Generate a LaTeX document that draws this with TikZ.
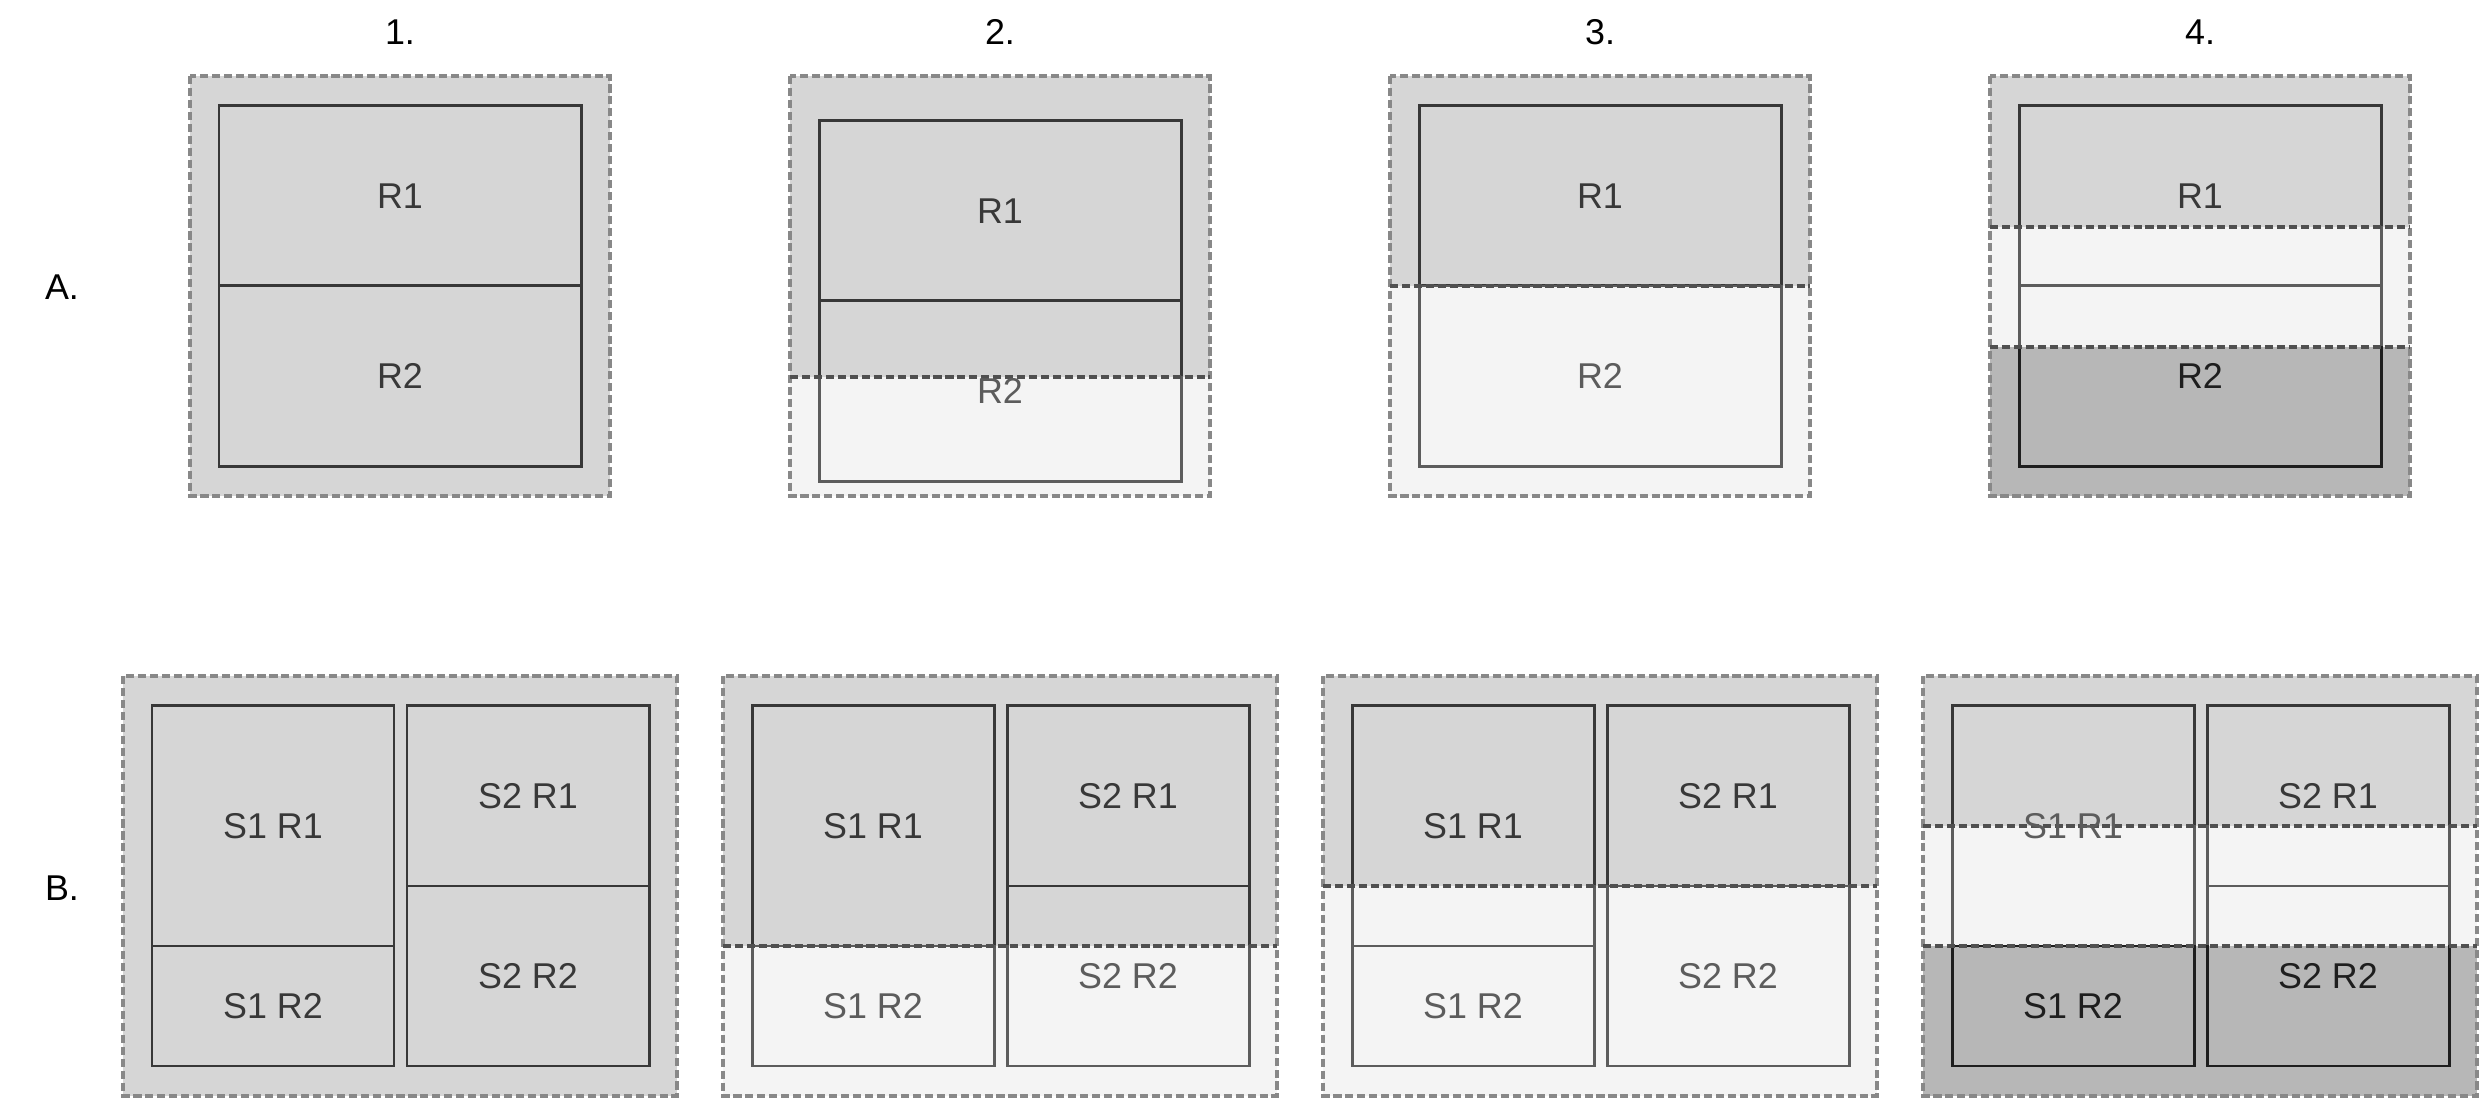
\documentclass[tikz,border=0pt]{standalone}
\usepackage{fontspec}
\setmainfont{Liberation Sans}
\usepackage{tikz}
\usetikzlibrary{positioning}

\definecolor{darkbg}{HTML}{D6D6D6}
\definecolor{darkfg}{HTML}{383838}
\definecolor{lightbg}{HTML}{F4F4F4}
\definecolor{lightfg}{HTML}{5C5C5C}
\definecolor{deepbg}{HTML}{B7B7B7}
\definecolor{deepfg}{HTML}{1E1E1E}
\definecolor{framegray}{HTML}{888888}
\definecolor{cutgray}{HTML}{505050}

\tikzset{
  frame/.style={draw=framegray, line width=0.9pt, dash pattern=on 2.3pt off 1.1pt},
  cut/.style={draw=cutgray, line width=0.9pt, dash pattern=on 2.3pt off 1.1pt},
  box/.style={line width=0.85pt},
  lbl/.style={font=\fontsize{10.2}{12}\selectfont, inner sep=0pt},
}

\begin{document}
\begin{tikzpicture}[x=0.01cm, y=-0.01cm]
\useasboundingbox (0,0) rectangle (2481,1098);

\node[lbl] (h1) at (400,32) {1.};
\node[lbl] (h2) at (1000,32) {2.};
\node[lbl] (h3) at (1600,32) {3.};
\node[lbl] (h4) at (2200,32) {4.};
\node[lbl] (rowA) at (62,287) {A.};
\node[lbl] (rowB) at (62,888) {B.};

% A.1
\foreach \ya/\yb/\z in {76/496/dark}{
\begin{scope}
\clip (190,\ya) rectangle (610,\yb);
\fill[fill=\z bg] (190,\ya) rectangle (610,\yb);
\draw[box, draw=\z fg] (219,106) rectangle (581,467);
\draw[box, draw=\z fg] (219,286) -- (581,286);
\end{scope}
}
\draw[frame] (190,76) rectangle (610,496);
\node[lbl, text=darkfg] (a1r1) at (400,196) {R1};
\node[lbl, text=darkfg] (a1r2) at (400,376) {R2};

% A.2
\foreach \ya/\yb/\z in {76/377/dark, 377/496/light}{
\begin{scope}
\clip (790,\ya) rectangle (1210,\yb);
\fill[fill=\z bg] (790,\ya) rectangle (1210,\yb);
\draw[box, draw=\z fg] (819,121) rectangle (1181,482);
\draw[box, draw=\z fg] (819,301) -- (1181,301);
\end{scope}
}
\draw[frame] (790,76) rectangle (1210,496);
\draw[cut] (790,377) -- (1210,377);
\node[lbl, text=darkfg] (a2r1) at (1000,211) {R1};
\node[lbl, text=lightfg] (a2r2) at (1000,391) {R2};

% A.3
\foreach \ya/\yb/\z in {76/286/dark, 286/496/light}{
\begin{scope}
\clip (1390,\ya) rectangle (1810,\yb);
\fill[fill=\z bg] (1390,\ya) rectangle (1810,\yb);
\draw[box, draw=\z fg] (1419,106) rectangle (1781,467);
\draw[box, draw=\z fg] (1419,286) -- (1781,286);
\end{scope}
}
\draw[frame] (1390,76) rectangle (1810,496);
\draw[cut] (1390,286) -- (1810,286);
\node[lbl, text=darkfg] (a3r1) at (1600,196) {R1};
\node[lbl, text=lightfg] (a3r2) at (1600,376) {R2};

% A.4
\foreach \ya/\yb/\z in {76/227/dark, 227/347/light, 347/496/deep}{
\begin{scope}
\clip (1990,\ya) rectangle (2410,\yb);
\fill[fill=\z bg] (1990,\ya) rectangle (2410,\yb);
\draw[box, draw=\z fg] (2019,106) rectangle (2381,467);
\draw[box, draw=\z fg] (2019,286) -- (2381,286);
\end{scope}
}
\draw[frame] (1990,76) rectangle (2410,496);
\draw[cut] (1990,227) -- (2410,227);
\draw[cut] (1990,347) -- (2410,347);
\node[lbl, text=darkfg] (a4r1) at (2200,196) {R1};
\node[lbl, text=deepfg] (a4r2) at (2200,376) {R2};

% B.1
\foreach \ya/\yb/\z in {676/1096/dark}{
\begin{scope}
\clip (123,\ya) rectangle (677,\yb);
\fill[fill=\z bg] (123,\ya) rectangle (677,\yb);
\draw[box, draw=\z fg] (152,706) rectangle (394,1066);
\draw[box, draw=\z fg] (152,946) -- (394,946);
\draw[box, draw=\z fg] (407,706) rectangle (649,1066);
\draw[box, draw=\z fg] (407,886) -- (649,886);
\end{scope}
}
\draw[frame] (123,676) rectangle (677,1096);
\node[lbl, text=darkfg] (b1s1r1) at (273,826) {S1 R1};
\node[lbl, text=darkfg] (b1s1r2) at (273,1006) {S1 R2};
\node[lbl, text=darkfg] (b1s2r1) at (528,796) {S2 R1};
\node[lbl, text=darkfg] (b1s2r2) at (528,976) {S2 R2};

% B.2
\foreach \ya/\yb/\z in {676/946/dark, 946/1096/light}{
\begin{scope}
\clip (723,\ya) rectangle (1277,\yb);
\fill[fill=\z bg] (723,\ya) rectangle (1277,\yb);
\draw[box, draw=\z fg] (752,706) rectangle (994,1066);
\draw[box, draw=\z fg] (752,946) -- (994,946);
\draw[box, draw=\z fg] (1007,706) rectangle (1249,1066);
\draw[box, draw=\z fg] (1007,886) -- (1249,886);
\end{scope}
}
\draw[frame] (723,676) rectangle (1277,1096);
\draw[cut] (723,946) -- (1277,946);
\node[lbl, text=darkfg] (b2s1r1) at (873,826) {S1 R1};
\node[lbl, text=lightfg] (b2s1r2) at (873,1006) {S1 R2};
\node[lbl, text=darkfg] (b2s2r1) at (1128,796) {S2 R1};
\node[lbl, text=lightfg] (b2s2r2) at (1128,976) {S2 R2};

% B.3
\foreach \ya/\yb/\z in {676/886/dark, 886/1096/light}{
\begin{scope}
\clip (1323,\ya) rectangle (1877,\yb);
\fill[fill=\z bg] (1323,\ya) rectangle (1877,\yb);
\draw[box, draw=\z fg] (1352,706) rectangle (1594,1066);
\draw[box, draw=\z fg] (1352,946) -- (1594,946);
\draw[box, draw=\z fg] (1607,706) rectangle (1849,1066);
\draw[box, draw=\z fg] (1607,886) -- (1849,886);
\end{scope}
}
\draw[frame] (1323,676) rectangle (1877,1096);
\draw[cut] (1323,886) -- (1877,886);
\node[lbl, text=darkfg] (b3s1r1) at (1473,826) {S1 R1};
\node[lbl, text=lightfg] (b3s1r2) at (1473,1006) {S1 R2};
\node[lbl, text=darkfg] (b3s2r1) at (1728,796) {S2 R1};
\node[lbl, text=lightfg] (b3s2r2) at (1728,976) {S2 R2};

% B.4
\foreach \ya/\yb/\z in {676/826/dark, 826/946/light, 946/1096/deep}{
\begin{scope}
\clip (1923,\ya) rectangle (2477,\yb);
\fill[fill=\z bg] (1923,\ya) rectangle (2477,\yb);
\draw[box, draw=\z fg] (1952,706) rectangle (2194,1066);
\draw[box, draw=\z fg] (1952,946) -- (2194,946);
\draw[box, draw=\z fg] (2207,706) rectangle (2449,1066);
\draw[box, draw=\z fg] (2207,886) -- (2449,886);
\end{scope}
}
\draw[frame] (1923,676) rectangle (2477,1096);
\draw[cut] (1923,826) -- (2477,826);
\draw[cut] (1923,946) -- (2477,946);
\node[lbl, text=lightfg] (b4s1r1) at (2073,826) {S1 R1};
\node[lbl, text=deepfg] (b4s1r2) at (2073,1006) {S1 R2};
\node[lbl, text=darkfg] (b4s2r1) at (2328,796) {S2 R1};
\node[lbl, text=deepfg] (b4s2r2) at (2328,976) {S2 R2};
\end{tikzpicture}
\end{document}
